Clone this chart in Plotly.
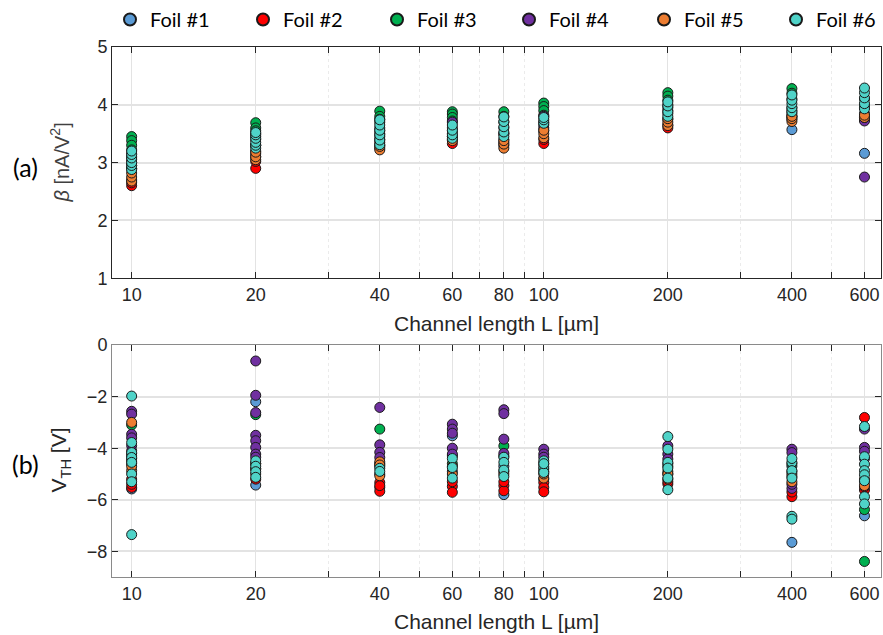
import math
import plotly.graph_objects as go

# ---------------- data ----------------
CHANNEL_LENGTHS = [10, 20, 40, 60, 80, 100, 200, 400, 600]
FOIL_NAMES = ["Foil #1", "Foil #2", "Foil #3", "Foil #4", "Foil #5", "Foil #6"]
FOIL_COLORS = ["#5B9BD5", "#FF0000", "#00B050", "#7030A0", "#ED7D31", "#4FD3C8"]
X_TICKS = [10, 20, 40, 60, 80, 100, 200, 400, 600]
X_MINOR_TICKS = [30, 50, 70, 90, 300, 500]
BETA_TICKS = [1, 2, 3, 4, 5]
VTH_TICKS = [0, -2, -4, -6, -8]

# beta [nA/V^2], one list of devices per channel length
beta_foil1 = [[2.9, 3.0, 3.1], [3.2, 3.3, 3.4], [3.3, 3.45, 3.6], [3.45, 3.55], [3.4, 3.5],
              [3.55, 3.65], [3.85, 3.95], [3.57, 3.85, 3.95], [3.16, 3.85, 3.95]]
beta_foil2 = [[2.6, 2.65, 2.7], [2.9, 3.02, 3.1], [3.25, 3.35], [3.33, 3.4], [3.3, 3.35],
              [3.33, 3.4], [3.6, 3.65], [3.75, 3.8], [3.75, 3.8]]
beta_foil3 = [[3.45, 3.38, 3.3, 3.22], [3.69, 3.6, 3.55, 3.5], [3.89, 3.8, 3.75, 3.7],
              [3.88, 3.84, 3.78, 3.72], [3.88, 3.8, 3.7], [4.03, 3.97, 3.9, 3.82],
              [4.21, 4.15, 4.08], [4.28, 4.2, 4.1], [4.0, 4.1]]
beta_foil4 = [[2.95, 3.05, 3.15], [3.15, 3.3, 3.45], [3.4, 3.5, 3.55], [3.5, 3.6, 3.7],
              [3.5, 3.6], [3.6, 3.7, 3.8], [3.75, 3.9, 4.0], [3.8, 3.9], [2.75, 3.72, 3.78]]
beta_foil5 = [[2.68, 2.75, 2.82, 2.9], [3.05, 3.1, 3.18], [3.22, 3.28], [3.38, 3.45],
              [3.25, 3.32, 3.38], [3.43, 3.5, 3.56], [3.64, 3.7, 3.76], [3.71, 3.76, 3.8],
              [3.78, 3.82]]
beta_foil6 = [[2.88, 2.95, 3.0, 3.08, 3.14, 3.2], [3.25, 3.3, 3.35, 3.42, 3.48, 3.52],
              [3.31, 3.39, 3.48, 3.56, 3.65, 3.74], [3.42, 3.48, 3.56, 3.65],
              [3.45, 3.53, 3.62, 3.71, 3.79], [3.68, 3.74, 3.78], [3.8, 3.88, 3.98, 4.05],
              [3.88, 3.95, 4.02, 4.08, 4.17], [3.93, 4.02, 4.12, 4.21, 4.29]]

# threshold voltage V_TH [V], one list of devices per channel length
vth_foil1 = [[-5.58, -4.3, -4.6], [-2.2, -5.43, -4.8], [-4.7, -5.0], [-3.52, -4.9],
             [-5.8, -4.7], [-4.9, -5.2], [-4.6, -5.0], [-7.65, -4.7, -5.0], [-6.62, -5.3]]
vth_foil2 = [[-5.52, -5.4, -5.2], [-5.2, -5.0], [-5.33, -5.52, -5.67, -5.45],
             [-5.48, -5.71, -5.3], [-5.45, -5.65, -5.3], [-5.33, -5.52, -5.69],
             [-5.39, -5.3], [-5.88, -5.7], [-2.81, -5.62, -5.5]]
vth_foil3 = [[-3.1, -4.2, -4.5], [-2.7, -4.6], [-3.26, -4.6], [-4.3, -4.6], [-3.91, -4.3],
             [-4.6, -4.8], [-4.7, -4.9], [-4.6, -4.9], [-6.38, -8.39]]
vth_foil4 = [[-2.57, -2.68, -3.46, -3.6, -3.9, -4.1, -4.4],
             [-0.62, -1.95, -2.62, -3.5, -3.71, -3.97, -4.23, -4.35],
             [-2.42, -3.87, -4.16, -4.36], [-3.07, -3.26, -3.42, -4.0, -4.23],
             [-2.51, -2.66, -3.65, -4.2], [-4.04, -4.23, -4.35], [-3.91, -4.23, -4.42],
             [-4.04, -4.17, -5.56, -5.4], [-3.26, -3.97, -4.12, -4.4]]
vth_foil5 = [[-3.0, -4.87, -4.7], [-4.6, -4.8], [-4.53, -5.07, -4.65], [-4.7, -5.0],
             [-4.9, -5.0], [-5.16, -5.0], [-5.0, -5.2], [-5.3, -5.1], [-5.45, -5.2]]
vth_foil6 = [[-1.98, -3.78, -4.17, -4.36, -4.55, -5.0, -5.3, -7.35],
             [-4.49, -4.7, -4.91, -5.13], [-4.78, -4.9], [-4.4, -4.75, -5.16],
             [-4.35, -4.55, -4.85, -5.1], [-4.49, -4.72, -4.94, -4.6],
             [-3.55, -4.04, -4.55, -4.77, -5.16, -5.61],
             [-4.55, -4.87, -5.16, -6.64, -6.75, -4.4],
             [-3.16, -4.33, -4.62, -4.87, -5.03, -5.26, -5.88, -6.16]]

BETA = [beta_foil1, beta_foil2, beta_foil3, beta_foil4, beta_foil5, beta_foil6]
VTH = [vth_foil1, vth_foil2, vth_foil3, vth_foil4, vth_foil5, vth_foil6]

# ---------------- layout constants ----------------
W, H = 883, 635
ML, MR, MT, MB = 112, 2, 40, 0
PW, PH = W - ML - MR, H - MT - MB
TOP_PX = (45, 277)
BOT_PX = (344, 577)
LEGEND_MARKER_PX = [129, 262, 396, 528, 663, 795]
AXIS_FONT = "Liberation Sans, Arial, sans-serif"
LABEL_FONT = "Lato, Carlito, Calibri, sans-serif"
TXT = "#262626"


def px_to_paper_x(px):
    return (px - ML) / PW


def py_to_paper_y(py):
    return (H - MB - py) / PH


def flatten(groups):
    xs, ys = [], []
    for L, vals in zip(CHANNEL_LENGTHS, groups):
        for v in vals:
            xs.append(L)
            ys.append(v)
    return xs, ys


def legend_id(i):
    return "legend" if i == 0 else f"legend{i + 1}"


fig = go.Figure()
for i in range(6):
    bx, by = flatten(BETA[i])
    vx, vy = flatten(VTH[i])
    mk = dict(size=10, color=FOIL_COLORS[i], line=dict(color="#1a1a1a", width=1))
    fig.add_trace(go.Scatter(x=bx, y=by, mode="markers", marker=mk, name=FOIL_NAMES[i],
                             xaxis="x", yaxis="y", showlegend=True, legend=legend_id(i)))
    fig.add_trace(go.Scatter(x=vx, y=vy, mode="markers", marker=mk, name=FOIL_NAMES[i],
                             xaxis="x2", yaxis="y2", showlegend=False))


def ydom(px):
    return [py_to_paper_y(px[1]), py_to_paper_y(px[0])]


xr = [math.log10(8.96), math.log10(658)]


def xaxis_cfg(line_color, anchor):
    return dict(
        type="log", range=xr, domain=[0, 1], anchor=anchor,
        tickmode="array", tickvals=X_TICKS, ticktext=[str(v) for v in X_TICKS],
        ticks="inside", ticklen=6, tickcolor=TXT, tickwidth=1,
        showline=True, linecolor=line_color, linewidth=1, mirror="ticks",
        showgrid=True, gridcolor="#e3e3e3", gridwidth=1,
        minor=dict(tickmode="array", tickvals=X_MINOR_TICKS, ticks="inside", ticklen=6,
                   tickcolor=TXT, showgrid=True, gridcolor="#ebebeb", griddash="dot"),
        tickfont=dict(family=AXIS_FONT, size=18, color=TXT),
        zeroline=False, automargin=False,
    )


def yaxis_cfg(dom, rng, ticks, line_color, anchor):
    return dict(
        domain=dom, range=rng, anchor=anchor,
        tickmode="array", tickvals=ticks,
        ticks="inside", ticklen=6, tickcolor=TXT,
        showline=True, linecolor=line_color, linewidth=1, mirror="ticks",
        showgrid=True, gridcolor="#e3e3e3", gridwidth=1.5,
        tickfont=dict(family=AXIS_FONT, size=18, color=TXT),
        zeroline=False, automargin=False,
    )


fig.update_layout(
    width=W, height=H,
    margin=dict(l=ML, r=MR, t=MT, b=MB),
    paper_bgcolor="white", plot_bgcolor="white",
    xaxis=xaxis_cfg("#262626", "y"),
    yaxis=yaxis_cfg(ydom(TOP_PX), [1, 5], BETA_TICKS, "#262626", "x"),
    xaxis2=xaxis_cfg("#8a8a8a", "y2"),
    yaxis2=yaxis_cfg(ydom(BOT_PX), [-9, 0], VTH_TICKS, "#8a8a8a", "x2"),
    showlegend=True,
)

# one single-entry legend per foil, so each entry sits where the reference puts it
for i, mx in enumerate(LEGEND_MARKER_PX):
    fig.update_layout({legend_id(i): dict(
        orientation="h", x=px_to_paper_x(mx - 19), xanchor="left",
        y=py_to_paper_y(17), yanchor="middle",
        font=dict(family=LABEL_FONT, size=20, color="black"),
        bgcolor="rgba(0,0,0,0)", itemsizing="constant")})

annotations = [
    dict(text="<i>β</i> [nA/V<sup>2</sup>]", x=px_to_paper_x(60), y=py_to_paper_y(161),
         font=dict(family=AXIS_FONT, size=20, color="#404040"), textangle=-90),
    dict(text="V<sub>TH</sub> [V]", x=px_to_paper_x(60), y=py_to_paper_y(460),
         font=dict(family=AXIS_FONT, size=21, color=TXT), textangle=-90),
    dict(text="Channel length L [µm]", x=px_to_paper_x(496), y=py_to_paper_y(322),
         font=dict(family=AXIS_FONT, size=21, color=TXT)),
    dict(text="Channel length L [µm]", x=px_to_paper_x(496), y=py_to_paper_y(621),
         font=dict(family=AXIS_FONT, size=21, color=TXT)),
    dict(text="(a)", x=px_to_paper_x(25), y=py_to_paper_y(165),
         font=dict(family=LABEL_FONT, size=25, color="black")),
    dict(text="(b)", x=px_to_paper_x(25), y=py_to_paper_y(463),
         font=dict(family=LABEL_FONT, size=25, color="black")),
]
for a in annotations:
    a.update(xref="paper", yref="paper", showarrow=False,
             xanchor="center", yanchor="middle")
fig.update_layout(annotations=annotations)

fig.write_html("out.html")
